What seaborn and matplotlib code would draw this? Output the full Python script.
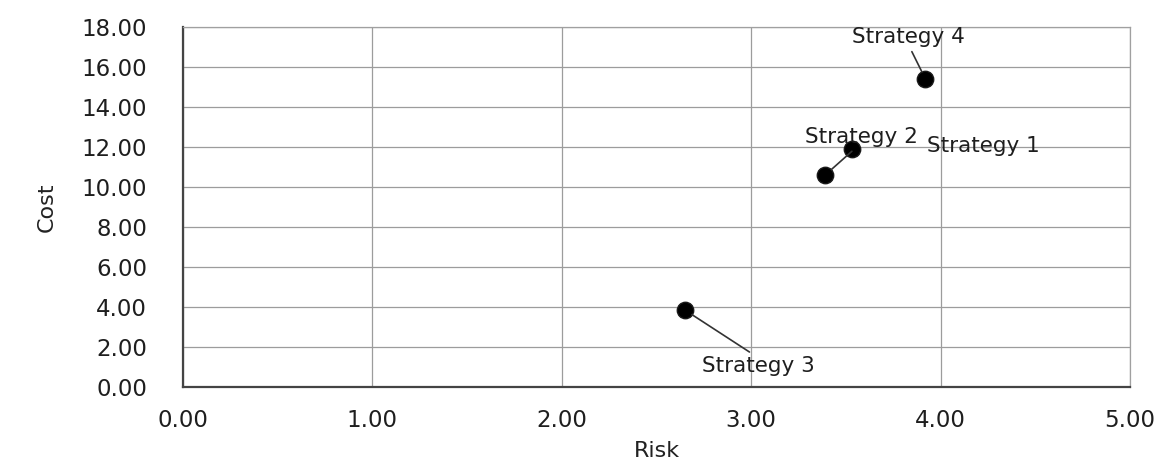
import matplotlib
matplotlib.use("Agg")
import matplotlib.pyplot as plt
import seaborn as sns
import pandas as pd

# Risk / cost of each strategy
strategies = ["Strategy 1", "Strategy 2", "Strategy 3", "Strategy 4"]
risk = [3.53, 3.39, 2.65, 3.92]
cost = [11.9, 10.6, 3.85, 15.4]

x_ticks = [0, 1, 2, 3, 4, 5]
y_ticks = [0, 2, 4, 6, 8, 10, 12, 14, 16, 18]

df = pd.DataFrame({"Strategy": strategies, "Risk": risk, "Cost": cost})

sns.set_theme(style="white")
plt.rcParams["font.family"] = ["DejaVu Sans"]

fig = plt.figure(figsize=(11.62, 4.68), dpi=100)
ax = fig.add_axes([0.1575, 0.173, 0.815, 0.769])

sns.scatterplot(data=df, x="Risk", y="Cost", color="black", s=140,
                edgecolor="#1a1a1a", linewidth=1, ax=ax, zorder=3, legend=False)

ax.set_xlim(0, 5)
ax.set_ylim(0, 18)
ax.set_xticks(x_ticks)
ax.set_xticklabels([f"{v:.2f}" for v in x_ticks])
ax.set_yticks(y_ticks)
ax.set_yticklabels([f"{v:.2f}" for v in y_ticks])
ax.tick_params(axis="x", length=0, pad=16, labelsize=16.5, labelcolor="#1e1e1e")
ax.tick_params(axis="y", length=0, pad=26, labelsize=16.5, labelcolor="#1e1e1e")

ax.grid(True, color="#9c9c9c", linewidth=0.9)
ax.set_axisbelow(True)
for side in ["top", "right"]:
    ax.spines[side].set_color("#a0a0a0")
    ax.spines[side].set_linewidth(0.9)
for side in ["left", "bottom"]:
    ax.spines[side].set_color("#444444")
    ax.spines[side].set_linewidth(1.6)

ax.set_xlabel("Risk", fontsize=16, color="#222222", labelpad=6)
ax.set_ylabel("Cost", fontsize=16, color="#222222", labelpad=18)

# label placement (offset in pixels from the point) and leader-line anchor
label_layout = {
    "Strategy 1": dict(offset=(132, 3), leader=None),
    "Strategy 2": dict(offset=(36, 38), leader=(0.46, 0.0)),
    "Strategy 3": dict(offset=(73, -56), leader=(0.48, 1.0)),
    "Strategy 4": dict(offset=(-17, 42), leader=(0.51, 0.0)),
}

for name, x, y in zip(strategies, risk, cost):
    lay = label_layout[name]
    arrow = None
    if lay["leader"] is not None:
        arrow = dict(arrowstyle="-", color="#333333", lw=1.2,
                     relpos=lay["leader"], shrinkA=1, shrinkB=6)
    ax.annotate(name, xy=(x, y), xytext=lay["offset"],
                textcoords="offset pixels", ha="center", va="center",
                fontsize=15.5, color="#1e1e1e", arrowprops=arrow, zorder=4)

fig.savefig("out.png", dpi=100)
